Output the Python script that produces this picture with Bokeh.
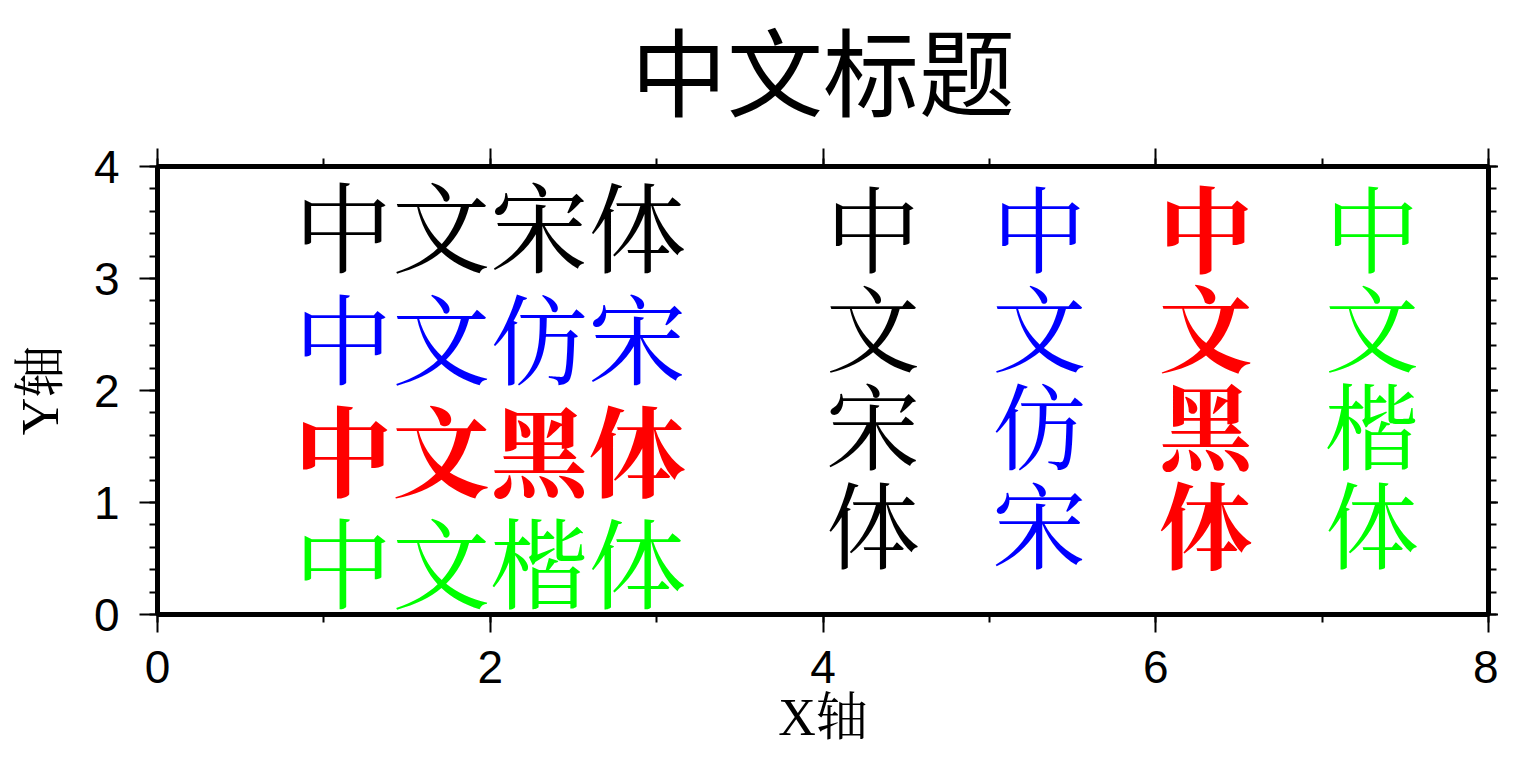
from bokeh.plotting import figure
from bokeh.models import ColumnDataSource, LinearAxis, SingleIntervalTicker, FixedTicker, Range1d
from bokeh.core.properties import value
from bokeh.embed import file_html
from bokeh.resources import INLINE

# ---- data ----
title_text = "中文标题"
x_label = "X轴"
y_label = "Y轴"

x_ticks = [0, 2, 4, 6, 8]
y_ticks = [0, 1, 2, 3, 4]

row_labels = ["中文宋体", "中文仿宋", "中文黑体", "中文楷体"]
row_colors = ["#000000", "#0000ff", "#ff0000", "#00ff00"]
row_styles = ["normal", "normal", "bold", "normal"]
row_x = [2.0, 2.0, 2.0, 2.0]
row_y = [3.5, 2.5, 1.5, 0.5]

col_x = [4.3, 5.3, 6.3, 7.3]
col_y = [2.15, 2.15, 2.15, 2.15]

CJK = "Noto Serif CJK SC, Noto Sans CJK SC"
LABEL_FONT = "Liberation Serif, Noto Serif CJK SC, Noto Sans CJK SC"

p = figure(width=1498, height=749, output_backend="svg", toolbar_location=None,
           x_range=Range1d(0, 8), y_range=Range1d(0, 4),
           min_border_left=157, min_border_right=10, min_border_top=166, min_border_bottom=135,
           background_fill_color="white", border_fill_color="white")
p.grid.visible = False
p.outline_line_color = "black"
p.outline_line_width = 5

bottom = p.xaxis[0]
left = p.yaxis[0]
bottom.ticker = SingleIntervalTicker(interval=2, num_minor_ticks=2)
left.ticker = SingleIntervalTicker(interval=1, num_minor_ticks=5)
top = LinearAxis(ticker=SingleIntervalTicker(interval=2, num_minor_ticks=2))
right = LinearAxis(ticker=SingleIntervalTicker(interval=1, num_minor_ticks=5))
p.add_layout(top, "above")
p.add_layout(right, "right")

for ax in [bottom, left, top, right]:
    ax.axis_line_color = None
    ax.major_tick_out = 18
    ax.major_tick_in = 0
    ax.minor_tick_out = 8
    ax.minor_tick_in = 0
    ax.major_tick_line_width = 2
    ax.minor_tick_line_width = 2
    ax.major_tick_line_color = "black"
    ax.minor_tick_line_color = "black"
    ax.major_label_text_font = "Liberation Sans"
    ax.major_label_text_font_size = "46px"
    ax.major_label_text_color = "black"
bottom.major_label_standoff = 18
left.major_label_standoff = 20
top.major_label_overrides = {t: "" for t in x_ticks}
right.major_label_overrides = {t: "" for t in y_ticks}
for ax in [top, right]:
    ax.major_label_text_font_size = "1px"
    ax.major_label_standoff = 0
# right-hand ticks drawn outward without reserving panel space
right.major_tick_out = 0
right.major_tick_in = -18
right.minor_tick_out = 0
right.minor_tick_in = -8

# Y axis label
left.axis_label = y_label
left.axis_label_text_font = LABEL_FONT
left.axis_label_text_font_size = "52px"
left.axis_label_text_font_style = "normal"
left.axis_label_text_color = "black"
left.axis_label_standoff = 22

# X axis label, drawn as the single label of an extra axis below
xlab = LinearAxis(ticker=FixedTicker(ticks=[4], minor_ticks=[]))
xlab.axis_line_color = None
xlab.major_tick_line_color = None
xlab.minor_tick_line_color = None
xlab.major_tick_out = 0
xlab.major_tick_in = 0
xlab.minor_tick_out = 0
xlab.minor_tick_in = 0
xlab.major_label_overrides = {4: x_label}
xlab.major_label_text_font = LABEL_FONT
xlab.major_label_text_font_size = "52px"
xlab.major_label_text_color = "black"
xlab.major_label_standoff = 3
p.add_layout(xlab, "below")

# title
p.title.text = title_text
p.title.align = "center"
p.title.vertical_align = "top"
p.title.text_font = "Liberation Sans, Noto Sans CJK SC"
p.title.text_font_size = "96px"
p.title.text_font_style = "normal"
p.title.text_color = "black"
p.title.standoff = 36

# horizontal rows
src_rows = ColumnDataSource(dict(x=row_x, y=row_y, text=row_labels,
                                 color=row_colors, style=row_styles))
p.text(x="x", y="y", text="text", source=src_rows, text_color="color",
       text_font_style="style", text_font=value(CJK), text_font_size=value("98px"),
       text_align="center", text_baseline="middle")

# vertical columns
col_texts = ["\n".join(list(s)) for s in row_labels]
src_cols = ColumnDataSource(dict(x=col_x, y=col_y, text=col_texts,
                                 color=row_colors, style=row_styles))
p.text(x="x", y="y", text="text", source=src_cols, text_color="color",
       text_font_style="style", text_font=value(CJK), text_font_size=value("94px"),
       text_line_height=0.73, text_align="center", text_baseline="middle")

open("out.html", "w").write(file_html(p, INLINE))
